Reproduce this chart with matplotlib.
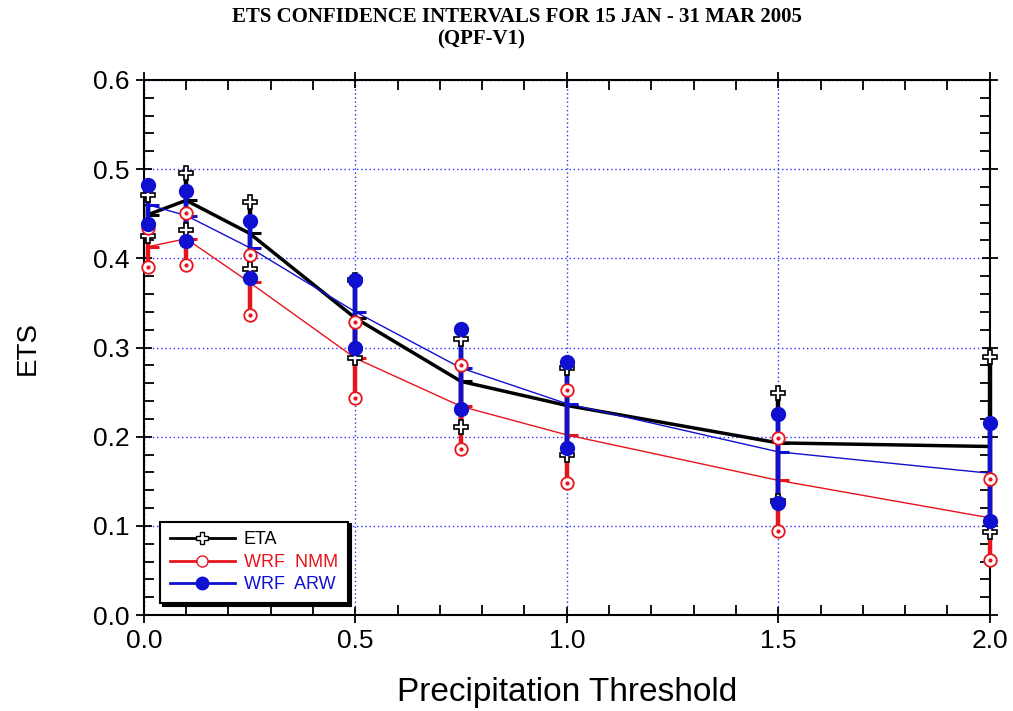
import numpy as np
import matplotlib
matplotlib.use('Agg')
import matplotlib.pyplot as plt
from matplotlib.lines import Line2D
from matplotlib.ticker import MultipleLocator

plt.rcParams['font.family'] = ['Liberation Sans', 'DejaVu Sans']

thresholds = [0.01, 0.1, 0.25, 0.5, 0.75, 1.0, 1.5, 2.0]

eta_mid = [0.449, 0.465, 0.428, 0.333, 0.262, 0.235, 0.193, 0.189]
eta_hi = [0.471, 0.496, 0.463, 0.376, 0.309, 0.277, 0.249, 0.289]
eta_lo = [0.425, 0.432, 0.388, 0.288, 0.211, 0.179, 0.128, 0.093]

nmm_mid = [0.413, 0.422, 0.373, 0.288, 0.234, 0.202, 0.151, 0.109]
nmm_hi = [0.434, 0.451, 0.404, 0.329, 0.280, 0.252, 0.198, 0.153]
nmm_lo = [0.390, 0.392, 0.337, 0.243, 0.186, 0.148, 0.094, 0.062]

arw_mid = [0.460, 0.448, 0.412, 0.340, 0.277, 0.237, 0.183, 0.159]
arw_hi = [0.482, 0.475, 0.442, 0.376, 0.321, 0.284, 0.225, 0.215]
arw_lo = [0.438, 0.419, 0.378, 0.299, 0.231, 0.187, 0.126, 0.105]

series = [
    ('ETA', 'black', eta_mid, eta_hi, eta_lo, 2.5),
    ('WRF NMM', '#e8141c', nmm_mid, nmm_hi, nmm_lo, 1.0),
    ('WRF ARW', '#1010d0', arw_mid, arw_hi, arw_lo, 1.0),
]

fig = plt.figure(figsize=(10.13, 7.11), dpi=100)
ax = fig.add_axes([0.142, 0.135, 0.835, 0.7525])

x = np.array(thresholds)

# curves through the central values
for name, col, mid, hi, lo, lw in series:
    ax.plot(x, mid, color=col, lw=lw, zorder=3)

# confidence bars
for k, (name, col, mid, hi, lo, lw) in enumerate(series):
    ax.vlines(x, lo, hi, color=col, lw=3.2, zorder=4 + k, clip_on=False)
    ax.plot(x, mid, ls='none', marker=1, ms=8, mew=2.2, color=col, zorder=4 + k)

# end markers
for vals in (eta_hi, eta_lo):
    ax.plot(x, vals, ls='none', marker='P', ms=10, mfc='white', mec='black',
            mew=1.2, zorder=8, clip_on=False)
for vals in (nmm_hi, nmm_lo):
    ax.plot(x, vals, ls='none', marker='o', ms=9, mfc='white', mec='#e8141c',
            mew=1.3, zorder=9, clip_on=False)
    ax.plot(x, vals, ls='none', marker='o', ms=2, mfc='#e8141c', mec='#e8141c',
            zorder=9, clip_on=False)
for vals in (arw_hi, arw_lo):
    ax.plot(x, vals, ls='none', marker='o', ms=10, color='#1010d0', zorder=10,
            clip_on=False)

ax.set_xlim(0, 2.0)
ax.set_ylim(0, 0.6)
ax.xaxis.set_major_locator(MultipleLocator(0.5))
ax.xaxis.set_minor_locator(MultipleLocator(0.1))
ax.yaxis.set_major_locator(MultipleLocator(0.1))
ax.yaxis.set_minor_locator(MultipleLocator(0.02))
ax.xaxis.set_major_formatter(plt.FormatStrFormatter('%.1f'))
ax.yaxis.set_major_formatter(plt.FormatStrFormatter('%.1f'))

ax.tick_params(which='major', direction='inout', length=12, width=1.3,
               top=True, right=True, labelsize=19, pad=4)
ax.tick_params(which='minor', direction='in', length=7, width=1.3,
               top=True, right=True)
for s in ax.spines.values():
    s.set_linewidth(1.5)

ax.grid(True, which='major', color='#3030ff', ls=(0, (1, 2)), lw=1.0)

ax.set_xlabel('Precipitation Threshold', fontsize=24, labelpad=17)
ax.set_ylabel('ETS', fontsize=20, labelpad=38)

fig.text(0.51, 0.99, 'ETS CONFIDENCE INTERVALS FOR 15 JAN - 31 MAR 2005',
         ha='center', va='top', fontsize=15, fontweight='bold', family='Liberation Serif')
fig.text(0.475, 0.958, '(QPF-V1)', ha='center', va='top', fontsize=15,
         fontweight='bold', family='Liberation Serif')

handles = [
    Line2D([], [], color='black', lw=2, marker='P', ms=9, mfc='white', mec='black'),
    Line2D([], [], color='#e8141c', lw=2, marker='o', ms=8, mfc='white', mec='#e8141c'),
    Line2D([], [], color='#1010d0', lw=2, marker='o', ms=9, mfc='#1010d0', mec='#1010d0'),
]
leg = ax.legend(handles, ['ETA', 'WRF  NMM', 'WRF  ARW'], loc='lower left',
                bbox_to_anchor=(0.019, 0.022), borderaxespad=0, fontsize=13,
                handlelength=3.6, handletextpad=0.5, fancybox=False, framealpha=1,
                edgecolor='black', shadow={'color': 'black', 'alpha': 1},
                labelspacing=0.3, borderpad=0.55, numpoints=1)
leg.get_frame().set_linewidth(1.5)
for txt, (name, col, *_rest) in zip(leg.get_texts(), series):
    txt.set_color(col)
leg.set_zorder(20)

fig.savefig('out.png', dpi=100)
